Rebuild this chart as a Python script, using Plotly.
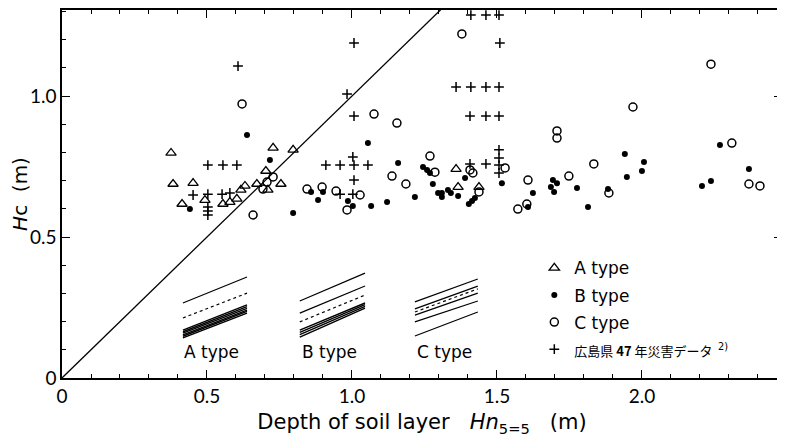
import plotly.graph_objects as go

# ---- data ----
A_X = [0.376, 0.728, 0.797, 0.703, 0.383, 0.452, 0.672, 0.755, 0.710, 0.631, 0.617,
       0.603, 0.579, 0.555, 0.493, 0.414, 1.359, 1.366, 1.438]
A_Y = [0.798, 0.816, 0.809, 0.734, 0.688, 0.691, 0.688, 0.688, 0.667, 0.681, 0.667,
       0.635, 0.624, 0.617, 0.631, 0.617, 0.741, 0.677, 0.677]

B_X = [0.441, 0.638, 0.717, 0.797, 0.859, 0.900, 0.883, 0.986, 1.003, 1.066, 1.121,
       1.055, 1.159, 1.217, 1.245, 1.259, 1.269, 1.279, 1.297, 1.310, 1.310, 1.331,
       1.341, 1.366, 1.390, 1.403, 1.414, 1.424, 1.517, 1.624, 1.607, 1.693, 1.707,
       1.686, 1.697, 1.776, 1.814, 1.883, 1.941, 1.948, 2.007, 2.000, 2.269, 2.238,
       2.207, 2.369]
B_Y = [0.599, 0.862, 0.773, 0.585, 0.660, 0.660, 0.631, 0.628, 0.610, 0.610, 0.624,
       0.833, 0.762, 0.642, 0.748, 0.738, 0.727, 0.688, 0.656, 0.656, 0.642, 0.667,
       0.656, 0.645, 0.709, 0.617, 0.628, 0.638, 0.691, 0.656, 0.606, 0.702, 0.691,
       0.677, 0.660, 0.674, 0.606, 0.670, 0.794, 0.713, 0.766, 0.734, 0.826, 0.699,
       0.681, 0.741]

C_X = [0.621, 0.659, 0.728, 0.707, 0.693, 0.845, 0.897, 0.945, 1.028, 0.983, 1.076,
       1.155, 1.138, 1.186, 1.379, 1.269, 1.286, 1.407, 1.417, 1.438, 1.528, 1.607,
       1.572, 1.603, 1.707, 1.707, 1.748, 1.834, 1.886, 1.969, 2.238, 2.310, 2.369,
       2.407]
C_Y = [0.972, 0.578, 0.713, 0.695, 0.670, 0.670, 0.677, 0.663, 0.649, 0.596, 0.936,
       0.904, 0.716, 0.688, 1.220, 0.787, 0.730, 0.738, 0.727, 0.660, 0.745, 0.702,
       0.599, 0.617, 0.876, 0.851, 0.716, 0.759, 0.656, 0.961, 1.113, 0.833, 0.688,
       0.681]

H_X = [0.607, 0.503, 0.555, 0.603, 0.452, 0.503, 0.552, 0.579, 0.503, 0.503, 0.503,
       1.007, 0.983, 1.007, 0.910, 0.959, 1.007, 1.055, 1.003, 1.007, 0.959, 1.003,
       1.410, 1.462, 1.507, 1.510, 1.359, 1.410, 1.462, 1.507, 1.407, 1.462, 1.507,
       1.407, 1.462, 1.507, 1.507, 1.507, 1.507]
H_Y = [1.106, 0.755, 0.755, 0.755, 0.649, 0.652, 0.652, 0.656, 0.606, 0.592, 0.578,
       1.188, 1.007, 0.929, 0.755, 0.755, 0.755, 0.755, 0.784, 0.702, 0.652, 0.652,
       1.287, 1.287, 1.287, 1.188, 1.032, 1.032, 1.032, 1.032, 0.929, 0.929, 0.929,
       0.759, 0.759, 0.809, 0.780, 0.755, 0.727]

# Hc = H line
LINE_X = [0.0, 1.31]
LINE_Y = [0.0, 1.31]

# inset sketches (x ends, then [left y, right y] per line)
A_INSET_X = [0.417, 0.638]
A_INSET_SOLID = [[0.266, 0.358]]
A_INSET_DOT = [[0.213, 0.301]]
A_INSET_BUNDLE = [[0.170, 0.259], [0.164, 0.253], [0.159, 0.247],
                  [0.153, 0.241], [0.148, 0.236], [0.142, 0.230]]

B_INSET_X = [0.820, 1.045]
B_INSET_SOLID = [[0.273, 0.372], [0.230, 0.326]]
B_INSET_DOT = [[0.199, 0.294]]
B_INSET_BUNDLE = [[0.170, 0.266], [0.162, 0.260], [0.154, 0.254], [0.145, 0.248]]

C_INSET_X = [1.217, 1.434]
C_INSET_SOLID = [[0.270, 0.351], [0.245, 0.326], [0.223, 0.301],
                 [0.199, 0.273], [0.149, 0.234]]
C_INSET_DOT = [[0.234, 0.316]]

INSET_LABELS = ["A type", "B type", "C type"]
INSET_LABEL_X = [0.517, 0.921, 1.320]
INSET_LABEL_Y = [0.092, 0.092, 0.092]

X_TICKS = [0, 0.5, 1.0, 1.5, 2.0]
X_TICK_TEXT = ["0", "0.5", "1.0", "1.5", "2.0"]
Y_TICKS = [0, 0.5, 1.0]
Y_TICK_TEXT = ["0", "0.5", "1.0"]

FONT = "'DejaVu Sans', sans-serif"
TICKFONT = "Lato, 'DejaVu Sans', sans-serif"
CJK = "Noto Sans CJK JP"

fig = go.Figure()

fig.add_trace(go.Scatter(x=A_X, y=A_Y, mode="markers", name="A type", legendgroup="a",
                         marker=dict(symbol="triangle-up-open", size=9, color="black",
                                     line=dict(width=1.3, color="black"))))
fig.add_trace(go.Scatter(x=B_X, y=B_Y, mode="markers", name="B type", legendgroup="b",
                         marker=dict(symbol="circle", size=6, color="black")))
fig.add_trace(go.Scatter(x=C_X, y=C_Y, mode="markers", name="C type", legendgroup="c",
                         marker=dict(symbol="circle-open", size=8, color="black",
                                     line=dict(width=1.5, color="black"))))
fig.add_trace(go.Scatter(x=H_X, y=H_Y, mode="markers",
                         name="<span style='font-family:" + CJK + ";font-size:13px'>"
                              "広島県 <b>47</b> 年災害データ</span> "
                              "<span style='font-size:14px'><sup>2)</sup></span>",
                         legendgroup="h",
                         marker=dict(symbol="cross-thin-open", size=7, color="black",
                                     line=dict(width=1.5, color="black"))))

fig.add_trace(go.Scatter(x=LINE_X, y=LINE_Y, mode="lines", showlegend=False,
                         line=dict(color="black", width=1.3), hoverinfo="skip"))


def add_inset(xs, solids, dots, bundle):
    for ys in solids:
        fig.add_trace(go.Scatter(x=xs, y=ys, mode="lines", showlegend=False,
                                 line=dict(color="black", width=1.2), hoverinfo="skip"))
    for ys in dots:
        fig.add_trace(go.Scatter(x=xs, y=ys, mode="lines", showlegend=False,
                                 line=dict(color="black", width=1.2, dash="3px,3px"),
                                 hoverinfo="skip"))
    for ys in bundle:
        fig.add_trace(go.Scatter(x=xs, y=ys, mode="lines", showlegend=False,
                                 line=dict(color="black", width=1.4), hoverinfo="skip"))


add_inset(A_INSET_X, A_INSET_SOLID, A_INSET_DOT, A_INSET_BUNDLE)
add_inset(B_INSET_X, B_INSET_SOLID, B_INSET_DOT, B_INSET_BUNDLE)
add_inset(C_INSET_X, C_INSET_SOLID, C_INSET_DOT, [])

for t, xv, yv in zip(INSET_LABELS, INSET_LABEL_X, INSET_LABEL_Y):
    fig.add_annotation(x=xv, y=yv, text=t, showarrow=False, xref="x", yref="y",
                       font=dict(family=FONT, size=17, color="black"))

# page body has an 8px default margin: size and margins compensate so the
# plot area lands at x 62-782, y 10-378 of the window
fig.update_layout(
    width=777, height=430,
    margin=dict(l=54, r=3, t=2, b=60),
    paper_bgcolor="white", plot_bgcolor="white",
    font=dict(family=FONT, color="black", size=17),
    showlegend=True,
    legend=dict(x=0.656, y=0.347, xanchor="left", yanchor="top",
                bgcolor="rgba(0,0,0,0)", font=dict(family=FONT, size=17),
                itemwidth=30, tracegroupgap=2),
)

fig.update_xaxes(range=[0, 2.483], tickvals=X_TICKS, ticktext=X_TICK_TEXT,
                 ticks="inside", ticklen=8, tickwidth=1.3, tickcolor="black",
                 minor=dict(dtick=0.1, ticks="inside", ticklen=4, tickwidth=1, tickcolor="black"),
                 showline=True, linecolor="black", linewidth=1.5, mirror="ticks",
                 showgrid=False, zeroline=False, automargin=False,
                 tickfont=dict(family=TICKFONT, size=19),
                 title=dict(text="Depth of soil layer   <i>Hn</i><sub>5=5</sub>   (m)",
                            font=dict(family=FONT, size=21), standoff=9))
fig.update_yaxes(range=[0, 1.305], tickvals=Y_TICKS, ticktext=Y_TICK_TEXT,
                 ticks="inside", ticklen=8, tickwidth=1.3, tickcolor="black",
                 minor=dict(dtick=0.1, ticks="inside", ticklen=4, tickwidth=1, tickcolor="black"),
                 showline=True, linecolor="black", linewidth=1.5, mirror="ticks",
                 showgrid=False, zeroline=False, automargin=False,
                 tickfont=dict(family=TICKFONT, size=19),
                 title=dict(text="<i>H</i>c  (m)", font=dict(family=FONT, size=20), standoff=2))

fig.write_html("out.html")
